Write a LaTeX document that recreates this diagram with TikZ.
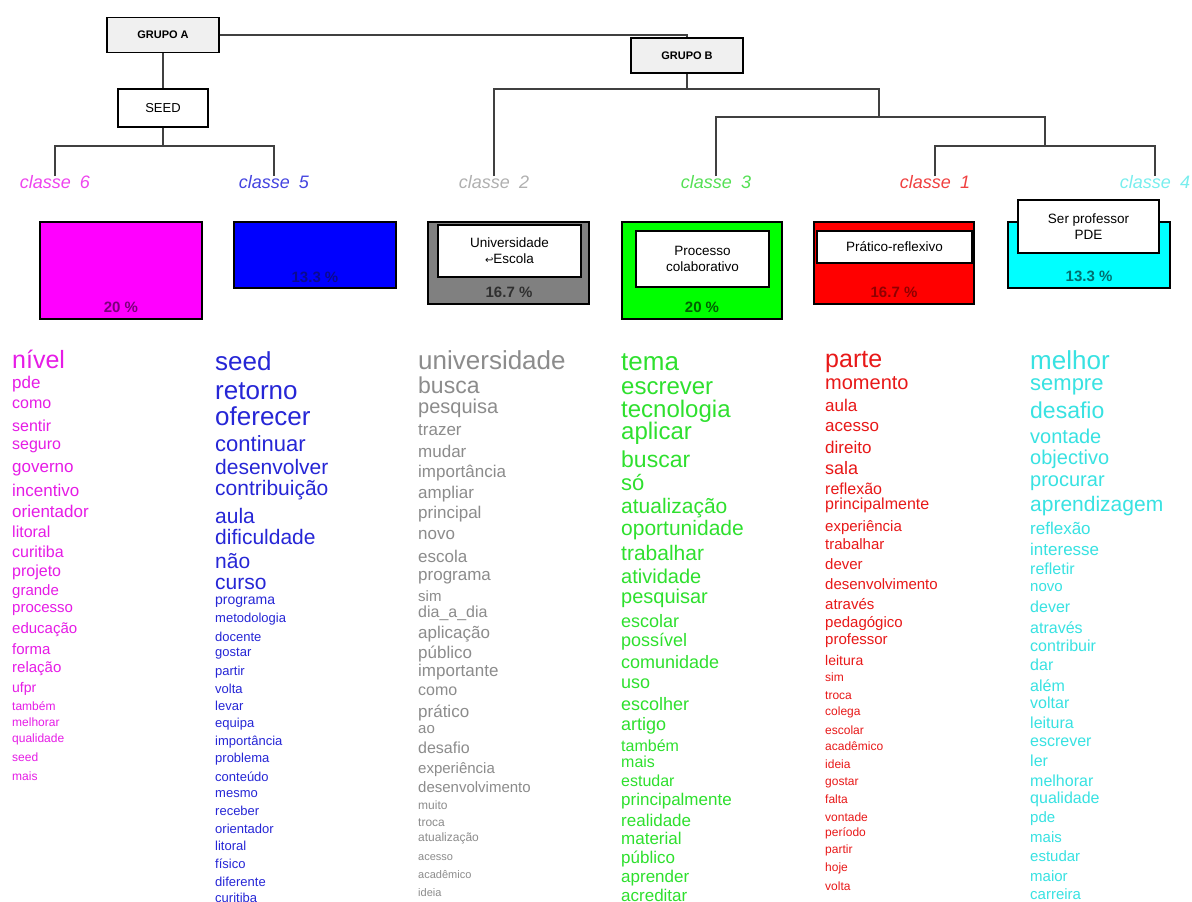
\documentclass[tikz,border=0pt]{standalone}
\usepackage{fontspec}
\setmainfont{Liberation Sans}
\newfontfamily\symfont{DejaVu Sans}
\definecolor{cmag}{HTML}{FF00FF}
\definecolor{cblue}{HTML}{0000FF}
\definecolor{cgray}{HTML}{808080}
\definecolor{cgreen}{HTML}{00FF00}
\definecolor{cred}{HTML}{FF0000}
\definecolor{ccyan}{HTML}{00FFFF}
\definecolor{tmag}{HTML}{E61CE6}
\definecolor{tblue}{HTML}{2626D6}
\definecolor{tgray}{HTML}{8C8C8C}
\definecolor{tgreen}{HTML}{2EE02E}
\definecolor{tred}{HTML}{E81818}
\definecolor{tcyan}{HTML}{38E2E2}
\definecolor{lmag}{HTML}{EE44EE}
\definecolor{lblue}{HTML}{4444E0}
\definecolor{lgray}{HTML}{B0B0B0}
\definecolor{lgreen}{HTML}{55E055}
\definecolor{lred}{HTML}{F04040}
\definecolor{lcyan}{HTML}{78EEEE}
\definecolor{pmag}{HTML}{7A007A}
\definecolor{pblue}{HTML}{0A0A90}
\definecolor{pgray}{HTML}{303030}
\definecolor{pgreen}{HTML}{006000}
\definecolor{pred}{HTML}{900000}
\definecolor{pcyan}{HTML}{007070}
\definecolor{treeline}{HTML}{404040}
\begin{document}
\begin{tikzpicture}[x=1pt,y=-1pt,
  tline/.style={draw=treeline, line width=1.6pt},
  grp/.style={draw, line width=1.2pt, fill=black!6, font=\fontsize{11}{13}\selectfont\bfseries, minimum width=112pt, minimum height=35pt, inner sep=0},
  seedbox/.style={draw, line width=1.2pt, fill=white, font=\fontsize{13}{15}\selectfont, minimum width=90pt, minimum height=38pt, inner sep=0},
  wbox/.style={draw, line width=1.1pt, fill=white, inner sep=0, align=center, font=\fontsize{13.5}{16}\selectfont},
  cbox/.style={draw, line width=1.1pt, inner sep=0},
  pct/.style={font=\fontsize{15}{15}\selectfont\bfseries, inner sep=0},
  lab/.style={font=\fontsize{18}{18}\selectfont\itshape, anchor=north, inner sep=0, text height=12pt, text depth=3pt},
  word/.style={anchor=base west, inner sep=0}]
\useasboundingbox[fill=white] (0,0) rectangle (1192,902);

% tree nodes
\node[grp] (ga) at (163,35) {GRUPO A};
\node[grp] (gb) at (687,55.5) {GRUPO B};
\node[seedbox] (seed) at (163,108) {SEED};
\node[lab, text=lmag] (lab6) at (55,176) {classe\hspace{9pt}6};
\node[lab, text=lblue] (lab5) at (274,176) {classe\hspace{9pt}5};
\node[lab, text=lgray] (lab2) at (494,176) {classe\hspace{9pt}2};
\node[lab, text=lgreen] (lab3) at (716,176) {classe\hspace{9pt}3};
\node[lab, text=lred] (lab1) at (935,176) {classe\hspace{9pt}1};
\node[lab, text=lcyan] (lab4) at (1155,176) {classe\hspace{9pt}4};
\coordinate (j0) at (163,146);
\coordinate (j1) at (687,89);
\coordinate (j2) at (879,117);
\coordinate (j3) at (1045,146);

\draw[tline] (ga.east) -| (gb.north);
\draw[tline] (ga.south) -- (seed.north);
\draw[tline] (seed.south) -- (j0);
\draw[tline] (lab6.north) |- (lab5.north |- j0) -- (lab5.north);
\draw[tline] (gb.south) -- (j1);
\draw[tline] (lab2.north) |- (j2 |- j1) -- (j2);
\draw[tline] (lab3.north) |- (j3 |- j2) -- (j3);
\draw[tline] (lab1.north) |- (lab4.north |- j3) -- (lab4.north);

% class boxes
\node[cbox, fill=cmag, minimum width=162pt, minimum height=97pt] (b6) at (121,270.5) {};
\node[pct, text=pmag] (p6) at (121,307) {20 \%};
\node[cbox, fill=cblue, minimum width=162pt, minimum height=66pt] (b5) at (315,255) {};
\node[pct, text=pblue] (p5) at (315,277) {13.3 \%};
\node[cbox, fill=cgray, minimum width=161pt, minimum height=82pt] (b2) at (508.5,263) {};
\node[wbox, minimum width=143pt, minimum height=52pt] (t2) at (509.5,251) {Universidade\\{\symfont\fontsize{10}{12}\selectfont ↩}Escola};
\node[pct, text=pgray] (p2) at (509,292) {16.7 \%};
\node[cbox, fill=cgreen, minimum width=160pt, minimum height=97pt] (b3) at (702,270.5) {};
\node[wbox, minimum width=133pt, minimum height=56pt] (t3) at (702.5,259) {Processo\\colaborativo};
\node[pct, text=pgreen] (p3) at (702,307) {20 \%};
\node[cbox, fill=cred, minimum width=160pt, minimum height=82pt] (b1) at (894,263) {};
\node[wbox, minimum width=155pt, minimum height=32pt] (t1) at (894.5,247) {Prático-reflexivo};
\node[pct, text=pred] (p1) at (894,292) {16.7 \%};
\node[cbox, fill=ccyan, minimum width=162pt, minimum height=66pt] (b4) at (1089,255) {};
\node[wbox, minimum width=141pt, minimum height=53pt] (t4) at (1088.5,226.5) {Ser professor\\PDE};
\node[pct, text=pcyan] (p4) at (1089,276) {13.3 \%};

% word columns
\foreach \w/\y/\s [count=\i] in {nível/361/25, pde/383/17, como/404/16, sentir/427/16, seguro/445/16, governo/467/17, incentivo/491/17, orientador/512/17, litoral/533/16, curitiba/553/16, projeto/572/16, grande/591/15, processo/608/15, educação/629/15, forma/650/15, relação/668/15, ufpr/688/14, também/707/12, melhorar/723/12, qualidade/739/12, seed/758/12, mais/777/12}
  \node[word, text=tmag, font=\fontsize{\s}{\s}\selectfont] (m\i) at (12,{\y+0.3*\s}) {\w};

\foreach \w/\y/\s [count=\i] in {seed/363/26, retorno/392/26, oferecer/418/26, continuar/445/22, desenvolver/468/21, contribuição/489/21, aula/517/21, dificuldade/538/21, não/562/21, curso/583/21, programa/600/14, metodologia/619/13, docente/638/13, gostar/653/13, partir/672/13, volta/690/13, levar/707/13, equipa/724/13, importância/742/13, problema/759/13, conteúdo/778/13, mesmo/794/13, receber/812/13, orientador/830/13, litoral/847/13, físico/865/13, diferente/883/13, curitiba/899/13}
  \node[word, text=tblue, font=\fontsize{\s}{\s}\selectfont] (u\i) at (215,{\y+0.3*\s}) {\w};

\foreach \w/\y/\s [count=\i] in {universidade/362/26, busca/387/23, pesquisa/407/20, trazer/430/17, mudar/452/17, importância/472/17, ampliar/493/17, principal/513/17, novo/534/17, escola/557/17, programa/575/17, sim/597/15, dia\_a\_dia/613/16, aplicação/633/17, público/653/17, importante/671/17, como/691/16, prático/712/17, ao/729/15, desafio/749/16, experiência/769/15, desenvolvimento/788/15, muito/806/12, troca/823/12, atualização/838/12, acesso/857/11, acadêmico/875/11, ideia/893/11}
  \node[word, text=tgray, font=\fontsize{\s}{\s}\selectfont] (g\i) at (418,{\y+0.3*\s}) {\w};

\foreach \w/\y/\s [count=\i] in {tema/363/26, escrever/387/24, tecnologia/410/24, aplicar/432/24, buscar/461/23, só/484/22, atualização/507/21, oportunidade/529/21, trabalhar/554/21, atividade/577/20, pesquisar/597/20, escolar/622/18, possível/641/18, comunidade/663/18, uso/683/18, escolher/705/18, artigo/725/18, também/747/16, mais/763/16, estudar/782/16, principalmente/800/17, realidade/821/17, material/839/17, público/858/17, aprender/877/17, acreditar/896/17}
  \node[word, text=tgreen, font=\fontsize{\s}{\s}\selectfont] (v\i) at (621,{\y+0.3*\s}) {\w};

\foreach \w/\y/\s [count=\i] in {parte/360/25, momento/383/20, aula/406/17, acesso/426/17, direito/448/17, sala/469/18, reflexão/490/16, principalmente/505/16, experiência/527/15, trabalhar/545/15, dever/565/15, desenvolvimento/585/15, através/605/15, pedagógico/623/15, professor/640/15, leitura/661/14, sim/678/12, troca/696/12, colega/712/12, escolar/731/12, acadêmico/747/12, ideia/765/12, gostar/782/12, falta/800/12, vontade/818/12, período/833/12, partir/850/12, hoje/868/12, volta/887/12}
  \node[word, text=tred, font=\fontsize{\s}{\s}\selectfont] (r\i) at (825,{\y+0.3*\s}) {\w};

\foreach \w/\y/\s [count=\i] in {melhor/362/26, sempre/384/22, desafio/412/23, vontade/437/20, objectivo/458/20, procurar/480/20, aprendizagem/505/21, reflexão/529/17, interesse/550/17, refletir/570/16, novo/587/15, dever/608/16, através/629/16, contribuir/647/16, dar/666/16, além/687/16, voltar/704/16, leitura/724/16, escrever/742/16, ler/762/16, melhorar/782/16, qualidade/799/16, pde/818/15, mais/838/15, estudar/857/15, maior/877/15, carreira/895/15}
  \node[word, text=tcyan, font=\fontsize{\s}{\s}\selectfont] (c\i) at (1030,{\y+0.3*\s}) {\w};
\end{tikzpicture}
\end{document}
